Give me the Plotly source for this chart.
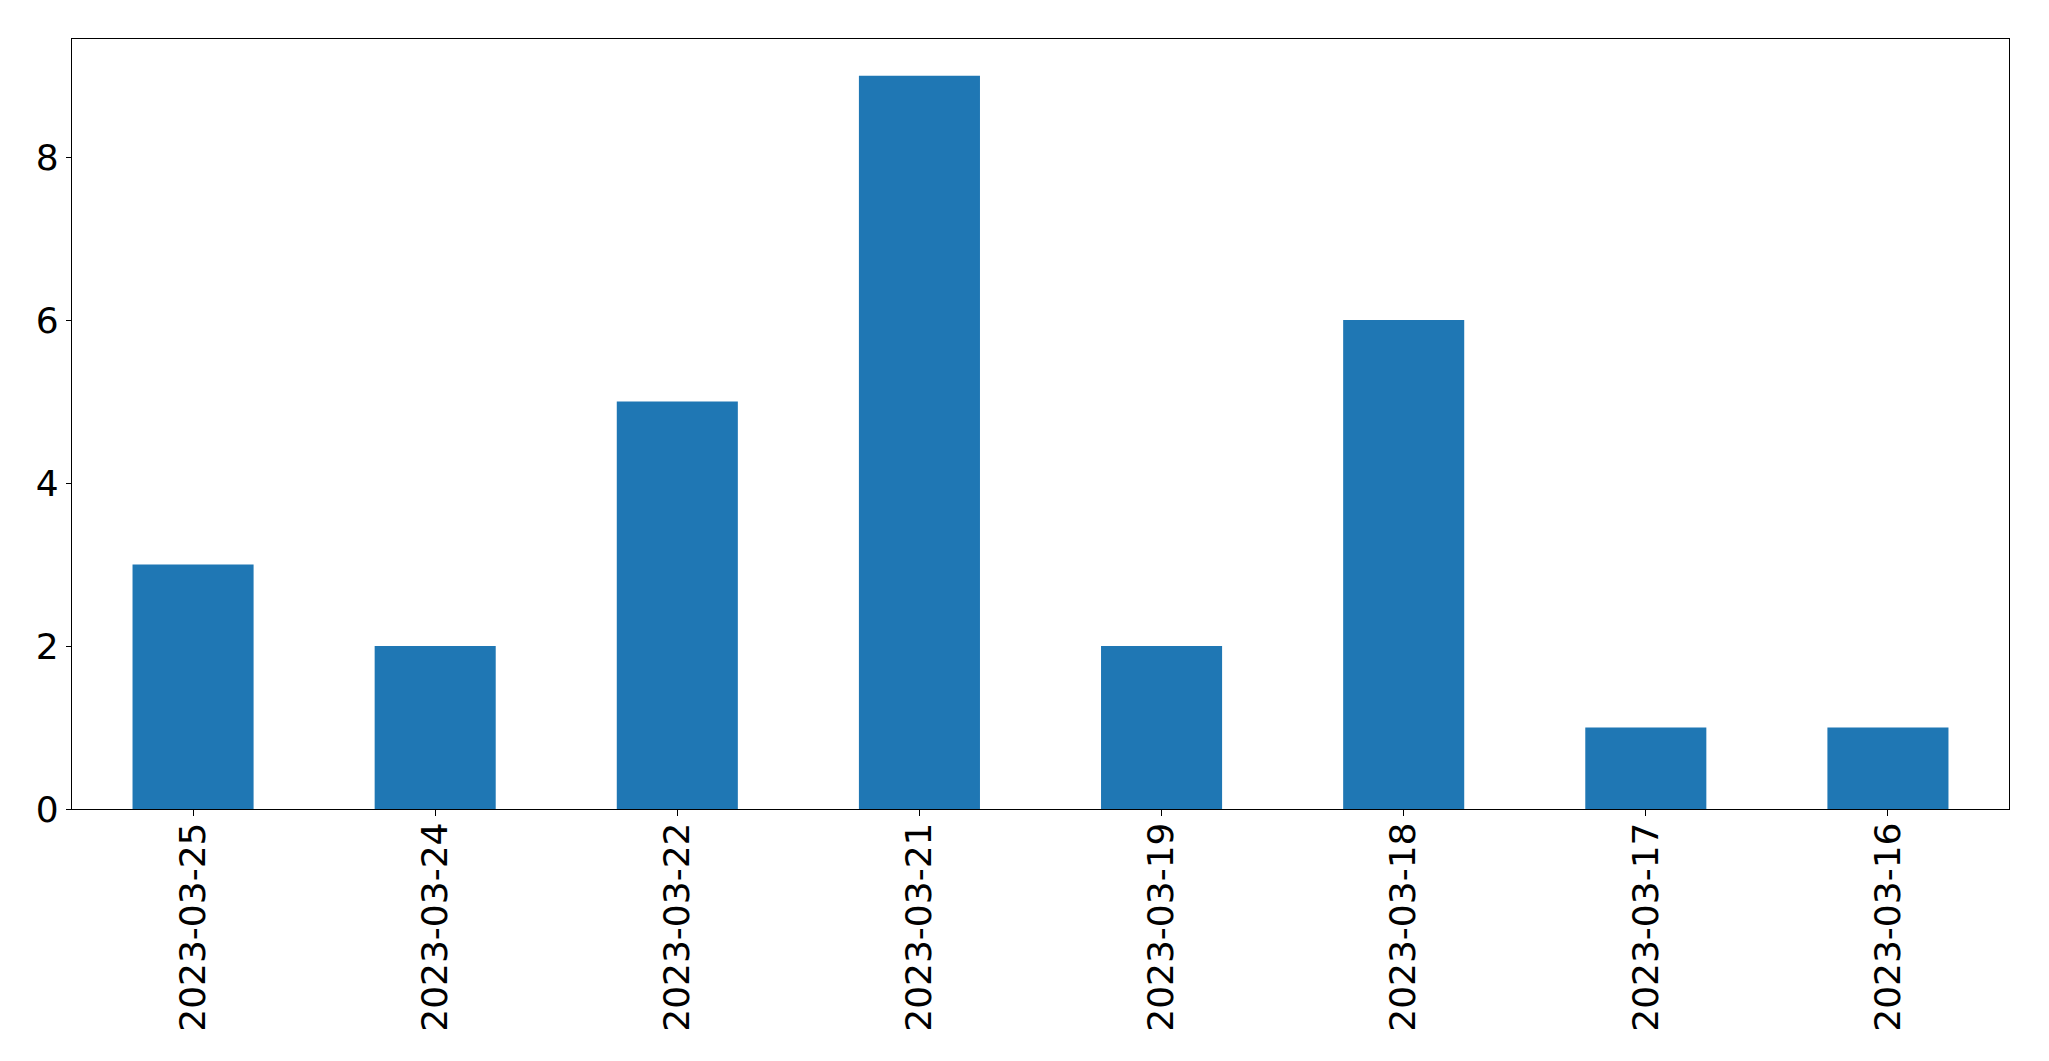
import plotly.graph_objects as go

dates = ["2023-03-25", "2023-03-24", "2023-03-22", "2023-03-21",
         "2023-03-19", "2023-03-18", "2023-03-17", "2023-03-16"]
counts = [3, 2, 5, 9, 2, 6, 1, 1]
y_ticks = [0, 2, 4, 6, 8]

fig = go.Figure(go.Bar(x=dates, y=counts, marker=dict(color="#1f77b4", line=dict(width=0)),
                       width=0.5))

# page body has an 8px default margin, so compensate
fig.update_layout(
    width=2033, height=1045, autosize=False,
    margin=dict(l=64, r=32, t=31, b=244),
    plot_bgcolor="white", paper_bgcolor="white",
    font=dict(family="DejaVu Sans", size=36, color="black"),
    showlegend=False,
    bargap=0.5,
)
fig.update_xaxes(
    type="category", range=[-0.5, 7.5], tickangle=-90, automargin=False,
    showline=True, linecolor="black", linewidth=1.3, mirror=True,
    ticks="outside", ticklen=6, tickcolor="black", tickwidth=1.3,
    ticklabelstandoff=-8,
    showgrid=False, zeroline=False,
)
fig.update_yaxes(
    range=[0, 9.45], tickvals=y_ticks, ticktext=[str(v) for v in y_ticks],
    automargin=False,
    showline=True, linecolor="black", linewidth=1.3, mirror=True,
    ticks="outside", ticklen=5, tickcolor="black", tickwidth=1.3,
    showgrid=False, zeroline=False,
)

fig.write_html("out.html")
